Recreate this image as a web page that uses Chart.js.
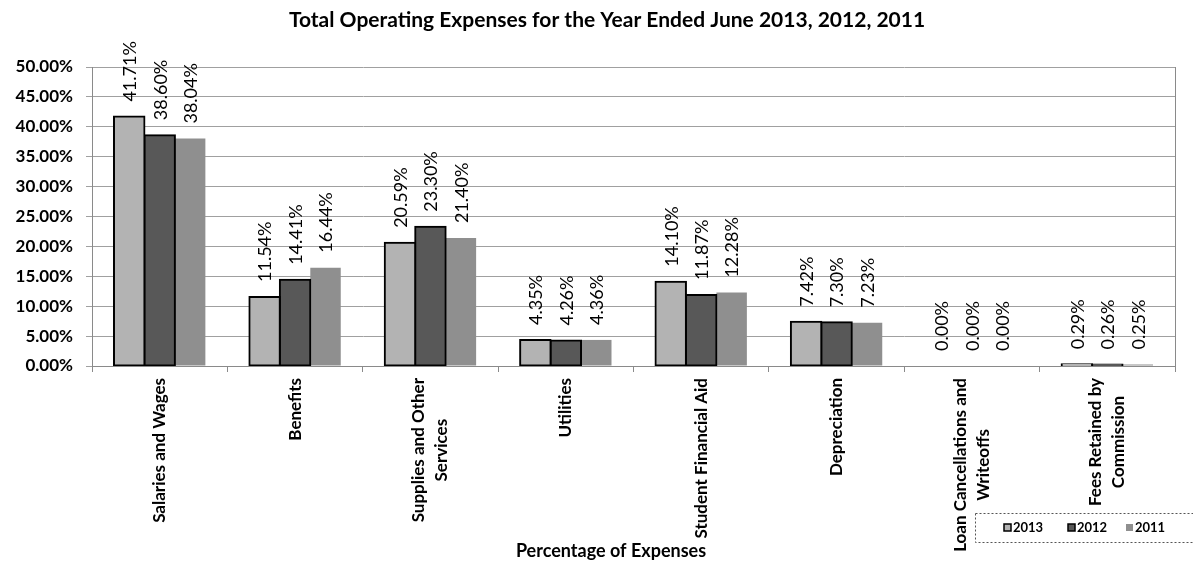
<!DOCTYPE html>
<html>
<head>
<meta charset="utf-8">
<script src="https://cdn.jsdelivr.net/npm/chart.js@4.4.1/dist/chart.umd.min.js"></script>
<style>
  html, body { margin: 0; padding: 0; background: #ffffff; }
  #wrap { width: 1193px; height: 564px; }
</style>
</head>
<body>
<div id="wrap"><canvas id="c" width="1193" height="564"></canvas></div>
<script>
const chartTitle = 'Total Operating Expenses for the Year Ended June 2013, 2012, 2011';
const axisTitle = 'Percentage of Expenses';
const categories = [
  ['Salaries and Wages'],
  ['Benefits'],
  ['Supplies and Other', 'Services'],
  ['Utilities'],
  ['Student Financial Aid'],
  ['Depreciation'],
  ['Loan Cancellations and', 'Writeoffs'],
  ['Fees Retained by', 'Commission']
];
const seriesLabels = ['2013', '2012', '2011'];
const values2013 = [41.71, 11.54, 20.59, 4.35, 14.10, 7.42, 0.00, 0.29];
const values2012 = [38.60, 14.41, 23.30, 4.26, 11.87, 7.30, 0.00, 0.26];
const values2011 = [38.04, 16.44, 21.40, 4.36, 12.28, 7.23, 0.00, 0.25];
const yMin = 0;
const yMax = 50;
const yStep = 5;

const FONT = 'Lato, "Open Sans", "DejaVu Sans", sans-serif';

const customDraw = {
  id: 'customDraw',
  afterDatasetsDraw(chart) {
    const ctx = chart.ctx;
    ctx.save();
    ctx.fillStyle = '#000';
    ctx.font = '18px ' + FONT;
    ctx.textAlign = 'left';
    ctx.textBaseline = 'middle';
    chart.data.datasets.forEach((ds, di) => {
      const meta = chart.getDatasetMeta(di);
      meta.data.forEach((bar, i) => {
        const v = ds.data[i];
        ctx.save();
        ctx.translate(bar.x + 1, bar.y - 15);
        ctx.rotate(-Math.PI / 2);
        ctx.fillText(v.toFixed(2) + '%', 0, 0);
        ctx.restore();
      });
    });
    ctx.restore();
  },
  afterDraw(chart) {
    const ctx = chart.ctx;
    const area = chart.chartArea;
    const xs = chart.scales.x;
    ctx.save();
    // chart title
    ctx.fillStyle = '#000';
    ctx.font = 'bold 21px ' + FONT;
    ctx.textAlign = 'center';
    ctx.textBaseline = 'middle';
    ctx.fillText(chartTitle, 607, 20);

    // right border of plot
    ctx.strokeStyle = '#8a8a8a';
    ctx.lineWidth = 1;
    ctx.beginPath();
    ctx.moveTo(Math.round(area.right) + 0.5, area.top);
    ctx.lineTo(Math.round(area.right) + 0.5, area.bottom + 6);
    ctx.stroke();

    // category labels (rotated, block right-aligned to axis, lines centered)
    ctx.font = 'bold 17px ' + FONT;
    ctx.textAlign = 'center';
    ctx.textBaseline = 'middle';
    const lineH = 23;
    const gapTop = 12;
    chart.data.labels.forEach((lines, i) => {
      const x = xs.getPixelForValue(i);
      let w = 0;
      lines.forEach(l => { w = Math.max(w, ctx.measureText(l).width); });
      const cy = area.bottom + gapTop + w / 2;
      const n = lines.length;
      lines.forEach((l, k) => {
        ctx.save();
        ctx.translate(x + (k - (n - 1) / 2) * lineH, cy);
        ctx.rotate(-Math.PI / 2);
        ctx.fillText(l, 0, 0);
        ctx.restore();
      });
    });

    // axis title
    ctx.font = 'bold 18px ' + FONT;
    ctx.textAlign = 'center';
    ctx.fillText(axisTitle, 611, 551);

    // legend
    const bx = 975, by = 513, bw = 240, bh = 29;
    ctx.setLineDash([2, 2]);
    ctx.strokeStyle = '#555';
    ctx.lineWidth = 1;
    ctx.strokeRect(bx + 0.5, by + 0.5, bw, bh);
    ctx.setLineDash([]);
    const itemX = [1004, 1068, 1126];
    ctx.font = 'bold 13px ' + FONT;
    ctx.textAlign = 'left';
    chart.data.datasets.forEach((ds, di) => {
      const sx = itemX[di];
      const sy = 524;
      ctx.fillStyle = ds.backgroundColor;
      ctx.fillRect(sx, sy, 7, 7);
      if (ds.borderWidth > 0) {
        ctx.strokeStyle = '#000';
        ctx.lineWidth = 1.5;
        ctx.strokeRect(sx, sy, 7, 7);
      }
      ctx.fillStyle = '#000';
      ctx.fillText(ds.label, sx + 9, 528);
    });
    ctx.restore();
  }
};

const inflateIfNonZero = c => (c.raw > 0 ? 1 : 0);

new Chart(document.getElementById('c'), {
  type: 'bar',
  data: {
    labels: categories,
    datasets: [
      { label: seriesLabels[0], data: values2013, backgroundColor: '#b3b3b3', borderColor: '#000', borderWidth: 2, borderSkipped: false, inflateAmount: inflateIfNonZero },
      { label: seriesLabels[1], data: values2012, backgroundColor: '#585858', borderColor: '#000', borderWidth: 2, borderSkipped: false, inflateAmount: inflateIfNonZero },
      { label: seriesLabels[2], data: values2011, backgroundColor: '#8f8f8f', borderColor: '#8f8f8f', borderWidth: 0, borderSkipped: false }
    ]
  },
  options: {
    responsive: false,
    animation: false,
    layout: { padding: { left: 0, right: 18, top: 67, bottom: 0 } },
    datasets: { bar: { categoryPercentage: 0.675, barPercentage: 1.0 } },
    plugins: {
      legend: { display: false },
      tooltip: { enabled: false },
      title: { display: false }
    },
    scales: {
      x: {
        ticks: { display: false },
        grid: { display: true, offset: true, drawOnChartArea: false, drawTicks: true, tickLength: 6, color: '#8a8a8a' },
        border: { display: true, color: '#8a8a8a' },
        afterFit(scale) { scale.height = 198; }
      },
      y: {
        min: yMin,
        max: yMax,
        ticks: {
          stepSize: yStep,
          color: '#000',
          padding: 13,
          font: { family: FONT, size: 17, weight: 'bold' },
          callback: v => Number(v).toFixed(2) + '%'
        },
        grid: { color: '#a0a0a0', tickLength: 6, drawTicks: true },
        border: { display: true, color: '#8a8a8a' },
        afterFit(scale) { scale.width = 92; }
      }
    }
  },
  plugins: [customDraw]
});
</script>
</body>
</html>
